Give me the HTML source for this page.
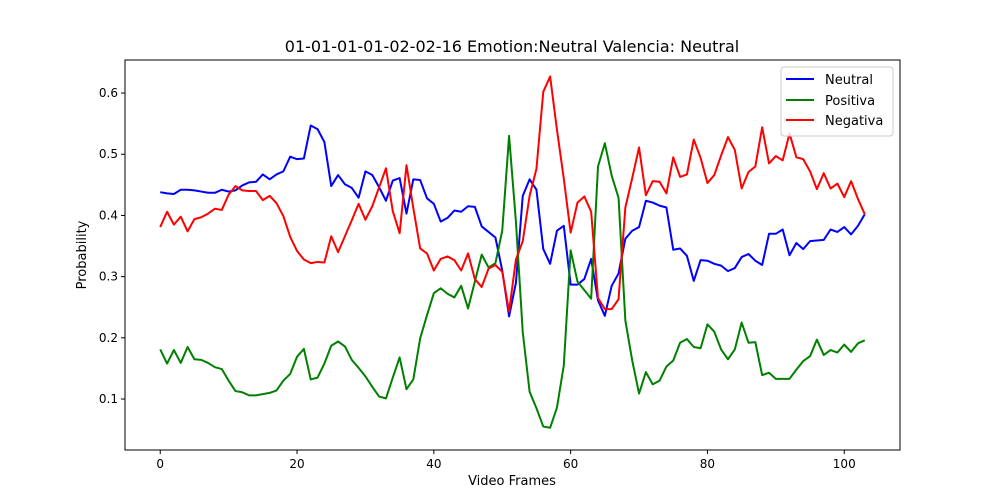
<!DOCTYPE html>
<html><head><meta charset="utf-8"><style>
body{margin:0;background:#fff;}
svg{display:block;font-family:"DejaVu Sans","Liberation Sans",sans-serif;}
</style></head><body>
<svg id="chart" width="1000" height="500" viewBox="0 0 1000 500">
<rect x="0" y="0" width="1000" height="500" fill="#fff"/>
<text x="512" y="52" text-anchor="middle" font-size="16">01-01-01-01-02-02-16 Emotion:Neutral Valencia: Neutral</text>
<g id="plot"></g>
<text x="512" y="485" text-anchor="middle" font-size="13">Video Frames</text>
<text x="0" y="0" transform="translate(86,255) rotate(-90)" text-anchor="middle" font-size="13">Probability</text>
<g>
<rect x="781" y="67" width="112" height="69" fill="#fff" fill-opacity="0.8" stroke="#ccc" rx="3"/>
<line x1="786" y1="79" x2="814" y2="79" stroke="#0000ff" stroke-width="2"/>
<text x="825" y="84" font-size="13">Neutral</text>
<line x1="786" y1="100" x2="814" y2="100" stroke="#008000" stroke-width="2"/>
<text x="825" y="105" font-size="13">Positiva</text>
<line x1="786" y1="120" x2="814" y2="120" stroke="#ff0000" stroke-width="2"/>
<text x="825" y="125" font-size="13">Negativa</text>
</g>
</svg>
<script>
const neutral=[0.438,0.436,0.435,0.442,0.442,0.441,0.439,0.437,0.437,0.442,0.439,0.441,0.449,0.454,0.455,0.467,0.459,0.467,0.472,0.496,0.492,0.493,0.547,0.541,0.520,0.448,0.466,0.451,0.445,0.429,0.472,0.466,0.446,0.424,0.457,0.461,0.403,0.459,0.458,0.428,0.419,0.390,0.396,0.408,0.406,0.415,0.414,0.382,0.373,0.364,0.310,0.235,0.290,0.432,0.459,0.442,0.345,0.321,0.375,0.383,0.287,0.287,0.296,0.329,0.261,0.236,0.285,0.305,0.362,0.375,0.381,0.424,0.421,0.416,0.413,0.344,0.346,0.334,0.293,0.327,0.326,0.321,0.318,0.309,0.314,0.332,0.337,0.326,0.319,0.370,0.370,0.377,0.335,0.355,0.345,0.358,0.359,0.360,0.377,0.373,0.381,0.369,0.383,0.402];
const positiva=[0.181,0.158,0.180,0.159,0.185,0.165,0.164,0.159,0.152,0.149,0.130,0.113,0.111,0.106,0.106,0.108,0.110,0.114,0.130,0.141,0.169,0.182,0.132,0.135,0.158,0.187,0.194,0.186,0.164,0.151,0.137,0.120,0.104,0.101,0.135,0.168,0.116,0.132,0.199,0.237,0.273,0.281,0.272,0.266,0.285,0.248,0.292,0.336,0.315,0.322,0.375,0.530,0.390,0.209,0.112,0.085,0.055,0.053,0.086,0.155,0.343,0.292,0.278,0.264,0.480,0.518,0.465,0.429,0.228,0.163,0.109,0.144,0.124,0.130,0.153,0.163,0.192,0.198,0.185,0.183,0.222,0.210,0.181,0.165,0.181,0.225,0.192,0.193,0.139,0.143,0.133,0.133,0.133,0.148,0.162,0.170,0.197,0.172,0.180,0.176,0.189,0.177,0.191,0.196];
const negativa=[0.381,0.406,0.385,0.398,0.374,0.394,0.397,0.403,0.411,0.409,0.434,0.448,0.441,0.440,0.440,0.425,0.432,0.420,0.399,0.365,0.342,0.328,0.322,0.324,0.323,0.366,0.340,0.366,0.392,0.419,0.393,0.415,0.446,0.477,0.407,0.371,0.482,0.412,0.346,0.338,0.310,0.329,0.333,0.327,0.310,0.338,0.296,0.283,0.313,0.319,0.308,0.243,0.328,0.358,0.432,0.476,0.602,0.627,0.540,0.460,0.372,0.421,0.431,0.406,0.265,0.247,0.247,0.263,0.413,0.461,0.511,0.433,0.456,0.455,0.436,0.495,0.463,0.467,0.524,0.494,0.453,0.466,0.498,0.528,0.507,0.444,0.471,0.480,0.544,0.485,0.497,0.490,0.534,0.495,0.492,0.472,0.443,0.469,0.444,0.452,0.430,0.456,0.427,0.402];
const xTicks=[0,20,40,60,80,100];
const yTicks=[0.1,0.2,0.3,0.4,0.5,0.6];
const yTickLabels=["0.1","0.2","0.3","0.4","0.5","0.6"];

const L=125,R=900,T=60,B=450;
const xMin=-5.15,xMax=108.15,yMin=0.0167,yMax=0.654;
const sx=v=>L+(v-xMin)/(xMax-xMin)*(R-L);
const sy=v=>B-(v-yMin)/(yMax-yMin)*(B-T);
const NS="http://www.w3.org/2000/svg";
const g=document.getElementById('plot');
function mk(tag,attrs){const e=document.createElementNS(NS,tag);for(const k in attrs)e.setAttribute(k,attrs[k]);return e;}

xTicks.forEach(t=>{
  const ln=mk('line',{x1:sx(t),x2:sx(t),y1:B,y2:B+4,stroke:'#000'});
  
  
  g.appendChild(ln);
  const tx=mk('text',{x:sx(t),y:B+18,'text-anchor':'middle','font-size':'12'});
  tx.textContent=t;
  
  
  g.appendChild(tx);
});
yTicks.forEach((t,i)=>{
  const ln=mk('line',{x1:L-4,x2:L,y1:sy(t),y2:sy(t),stroke:'#000'});
  
  
  g.appendChild(ln);
  const tx=mk('text',{x:L-7,y:sy(t)+4,'text-anchor':'end','font-size':'12'});
  tx.textContent=yTickLabels[i];
  
  
  g.appendChild(tx);
});
function series(arr,color,name){
  const p=mk('polyline',{points:arr.map((v,i)=>sx(i)+','+sy(v)).join(' '),fill:'none',stroke:color,'stroke-width':'2','stroke-linejoin':'round'});
  
  
  g.appendChild(p);
}
series(neutral,'#0000ff','neutral-line');
series(positiva,'#008000','positiva-line');
series(negativa,'#ff0000','negativa-line');
const frame=mk('rect',{x:L,y:T,width:R-L,height:B-T,fill:'none',stroke:'#000'});


g.appendChild(frame);
</script>
</body></html>
